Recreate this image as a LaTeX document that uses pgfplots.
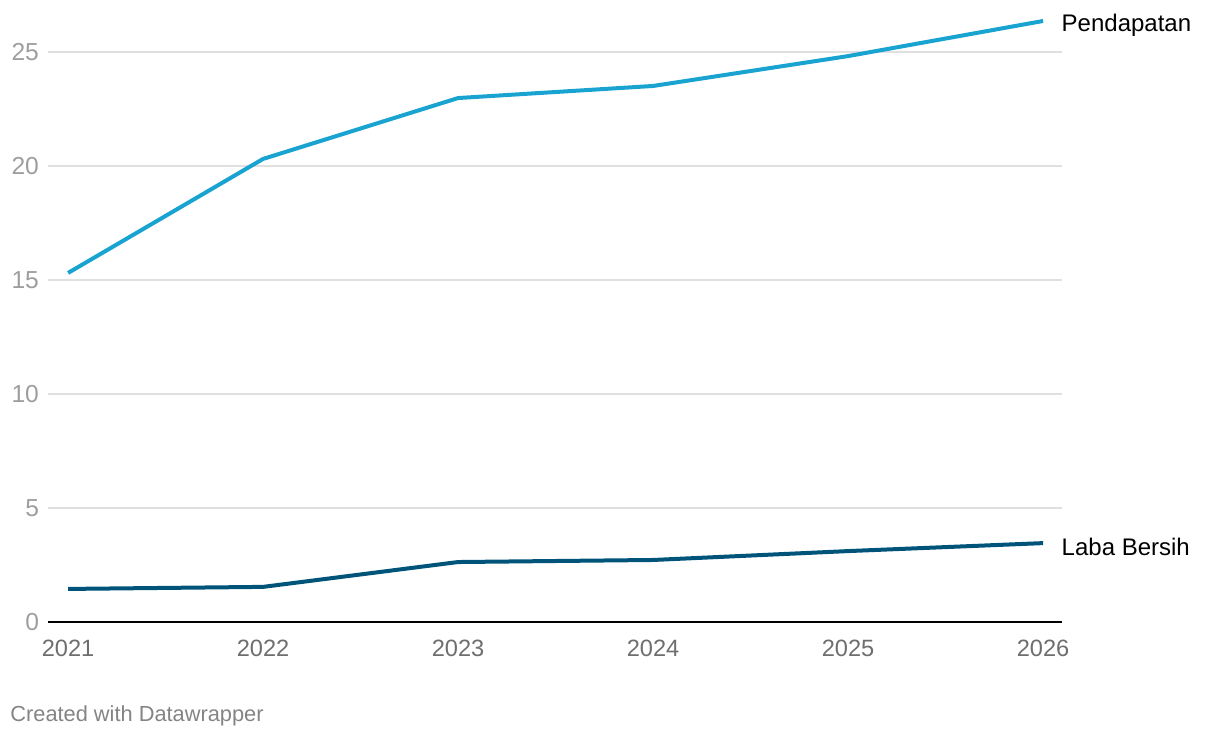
\documentclass[border=0pt]{standalone}
\usepackage{pgfplots}
\pgfplotsset{compat=1.18}
\usepackage{fontspec}
\setmainfont{Liberation Sans}
\definecolor{lightblue}{RGB}{24,163,209}
\definecolor{darkblue}{RGB}{0,84,122}
\definecolor{gridgray}{RGB}{224,224,224}
\definecolor{ylabgray}{RGB}{158,158,158}
\definecolor{xlabgray}{RGB}{110,110,110}
\begin{document}
\begin{tikzpicture}
\begin{axis}[
    scale only axis,
    width=507pt,
    height=307.8pt,
    xmin=2020.897, xmax=2026.097,
    ymin=0, ymax=27,
    xtick={2021,2022,2023,2024,2025,2026},
    ytick={0,5,10,15,20,25},
    xticklabel style={/pgf/number format/1000 sep={}, font=\fontsize{11.8}{12}\selectfont, text=xlabgray, yshift=-5.5pt},
    yticklabel style={font=\fontsize{12.3}{13}\selectfont, text=ylabgray, anchor=east, xshift=-1pt},
    /pgf/number format/assume math mode=true,
    major tick length=0pt,
    ymajorgrids,
    grid style={gridgray, line width=0.6pt},
    axis x line*=bottom,
    axis y line*=left,
    y axis line style={draw=none},
    x axis line style={black, line width=1pt, -},
    clip=false,
]
\addplot[lightblue, line width=2pt] coordinates {
(2021,15.31) (2022,20.31) (2023,22.98) (2024,23.51) (2025,24.82) (2026,26.36)
} node[pos=1, anchor=west, xshift=5pt, yshift=-2pt, text=black, font=\fontsize{12}{13}\selectfont] {Pendapatan};
\addplot[darkblue, line width=2pt] coordinates {
(2021,1.45) (2022,1.54) (2023,2.63) (2024,2.72) (2025,3.11) (2026,3.46)
} node[pos=1, anchor=west, xshift=5pt, yshift=-2pt, text=black, font=\fontsize{12}{13}\selectfont] {Laba Bersih};
\end{axis}
\node[anchor=west, text=xlabgray!85, font=\fontsize{10.9}{12}\selectfont, inner sep=0pt] at (-19pt,-47pt) {Created with Datawrapper};
\path[use as bounding box] (-24pt,-58pt) rectangle (586pt,311pt);
\end{tikzpicture}
\end{document}
